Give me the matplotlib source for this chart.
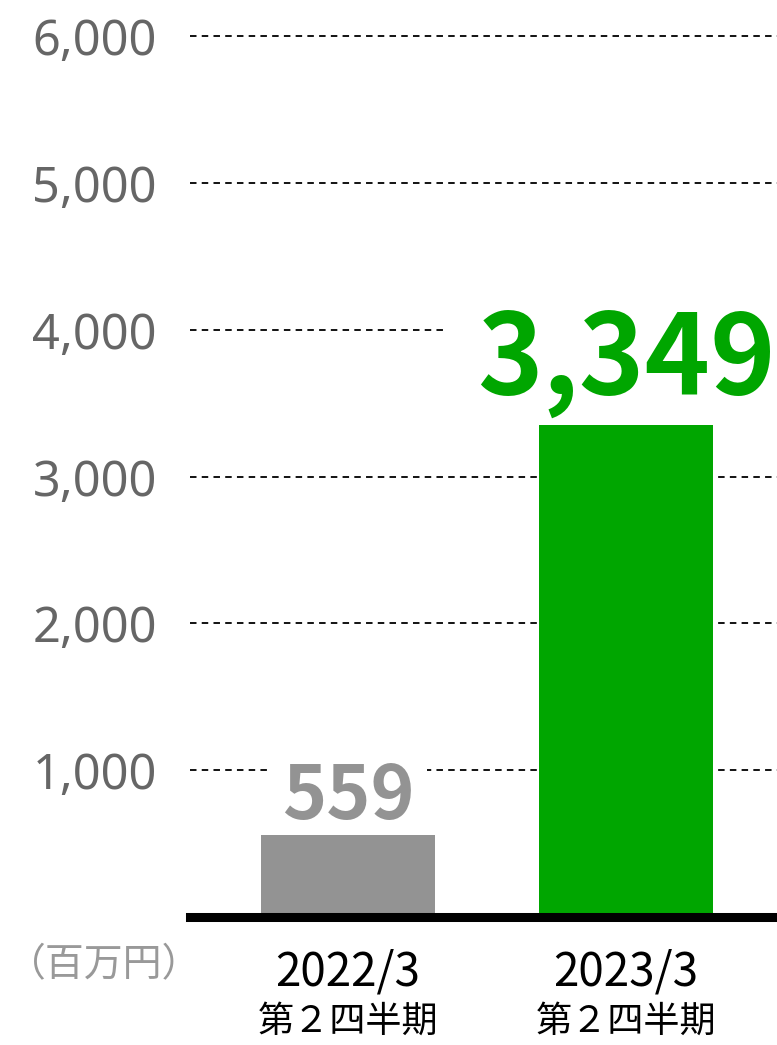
import matplotlib
matplotlib.use("Agg")
import matplotlib.pyplot as plt

# ---- data ----
categories_line1 = ["2022/3", "2023/3"]
categories_line2 = ["第２四半期", "第２四半期"]
values = [559, 3349]
value_labels = ["559", "3,349"]
yticks = [1000, 2000, 3000, 4000, 5000, 6000]
ytick_labels = ["1,000", "2,000", "3,000", "4,000", "5,000", "6,000"]
unit_label = "（百万円）"

bar_colors = ["#939393", "#00a600"]
label_sizes = [54, 80]
label_offsets = [11.5, 23]   # points above bar top
label_pads = [0.17, 0.3]

W, H = 777, 1045
fig = plt.figure(figsize=(W / 100, H / 100), dpi=100)
y0_px = 917
ymax = 6150
px_per_unit = 0.1468
ax_h = ymax * px_per_unit
ax = fig.add_axes([190 / W, (H - y0_px) / H, (W - 190) / W, ax_h / H])

x = list(range(len(values)))
ax.bar(x, values, width=0.626, color=bar_colors, zorder=2)
ax.set_xlim(-0.568, 1.543)
ax.set_ylim(0, ymax)

for s in ax.spines.values():
    s.set_visible(False)

ax.set_yticks(yticks)
ax.set_yticklabels(ytick_labels, family="Noto Sans")
ax.tick_params(axis="y", length=0, pad=23.8, labelsize=35, labelcolor="#666666")
ax.set_xticks([])
ax.yaxis.grid(True, color="black", linewidth=1.3, linestyle=(0, (3.6, 2.9)), zorder=0.5)
ax.set_axisbelow(True)

ax.axhline(0, color="black", linewidth=6.5, zorder=4, clip_on=False)

for i, v in enumerate(values):
    ax.annotate(value_labels[i], xy=(i, v), xytext=(0, label_offsets[i]),
                textcoords="offset points", ha="center", va="baseline",
                fontsize=label_sizes[i], fontweight="bold", color=bar_colors[i],
                family=["Noto Sans CJK JP", "DejaVu Sans"], zorder=1.5,
                bbox=dict(boxstyle=f"square,pad={label_pads[i]}", fc="white", ec="none"))

for i in x:
    ax.annotate(categories_line1[i], xy=(i, 0), xycoords=("data", "axes fraction"),
                xytext=(0, -39.6), textcoords="offset points", ha="center", va="center",
                fontsize=33, color="black", family=["Noto Sans CJK JP", "DejaVu Sans"],
                annotation_clip=False)
    ax.annotate(categories_line2[i], xy=(i, 0), xycoords=("data", "axes fraction"),
                xytext=(0, -75.6), textcoords="offset points", ha="center", va="center",
                fontsize=26, color="black", family=["Noto Sans CJK JP", "DejaVu Sans"],
                annotation_clip=False)

fig.text(104 / W, 1 - 965 / H, unit_label, ha="center", va="center", fontsize=28,
         color="#999999", family=["Noto Sans CJK JP", "DejaVu Sans"])

fig.savefig("out.png", dpi=100, facecolor="white")
